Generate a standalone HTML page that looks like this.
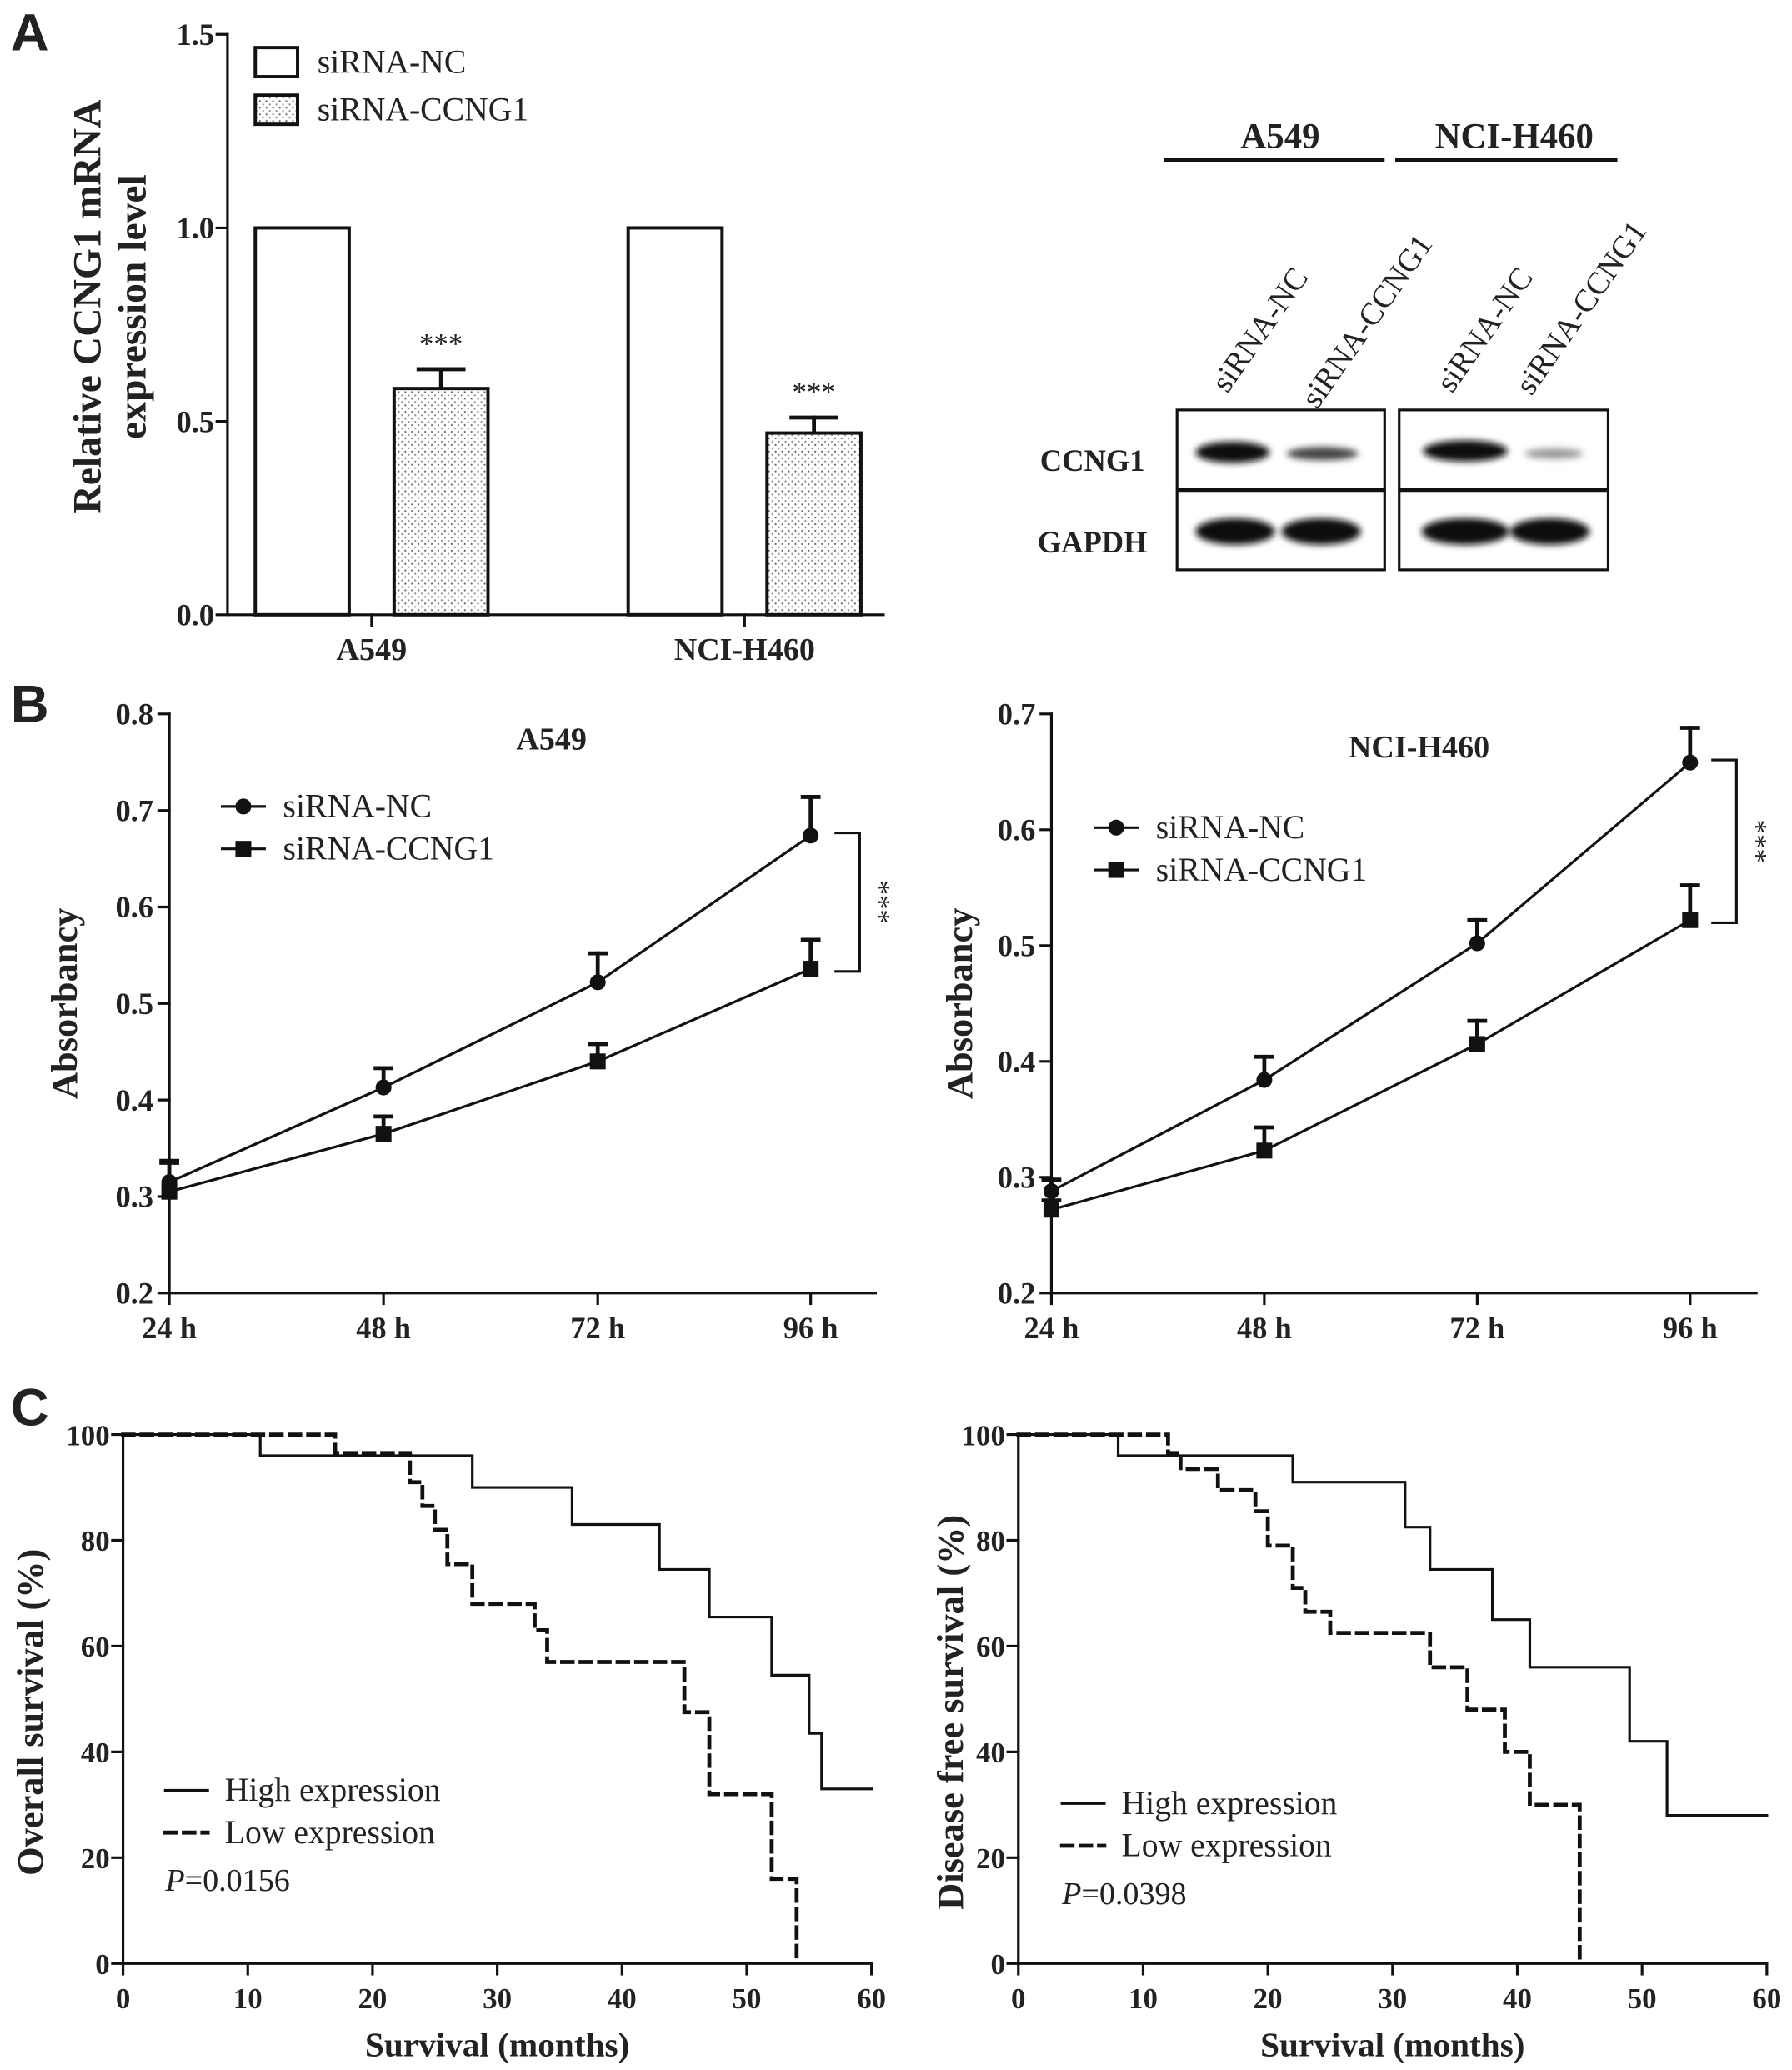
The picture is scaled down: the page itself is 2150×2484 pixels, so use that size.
<!DOCTYPE html>
<html><head><meta charset="utf-8">
<style>
html,body{margin:0;padding:0;background:#fff;}
svg{display:block;}
text{font-family:"Liberation Serif",serif;fill:#222;}
.b{font-weight:bold;}
</style></head>
<body>
<svg id="fig" width="2150" height="2484" viewBox="0 0 1355 1565.5" xmlns="http://www.w3.org/2000/svg">
<defs>
<pattern id="dots" width="5" height="5" patternUnits="userSpaceOnUse"><rect width="5" height="5" fill="#fff"/><circle cx="1.5" cy="1.5" r="0.7" fill="#666"/><circle cx="4" cy="4" r="0.7" fill="#888"/></pattern>
<filter id="blur"><feGaussianBlur stdDeviation="2.5"/></filter>
</defs>
<g id="root" stroke-linecap="square"></g>
<text x="8" y="38" font-size="40" class="b" style="font-family:'Liberation Sans',sans-serif">A</text>
<text x="8" y="546" font-size="40" class="b" style="font-family:'Liberation Sans',sans-serif">B</text>
<text x="8" y="1078" font-size="40" class="b" style="font-family:'Liberation Sans',sans-serif">C</text>

<g>
<line x1="880" y1="121" x2="1047" y2="121" stroke="#111" stroke-width="2.5"/>
<line x1="1055" y1="121" x2="1223" y2="121" stroke="#111" stroke-width="2.5"/>
<text x="968" y="112" font-size="27" class="b" text-anchor="middle">A549</text>
<text x="1145" y="112" font-size="27" class="b" text-anchor="middle">NCI-H460</text>
<text transform="translate(928,298) rotate(-55)" font-size="24">siRNA-NC</text>
<text transform="translate(996,310) rotate(-55)" font-size="24">siRNA-CCNG1</text>
<text transform="translate(1098,298) rotate(-55)" font-size="24">siRNA-NC</text>
<text transform="translate(1158,300) rotate(-55)" font-size="24">siRNA-CCNG1</text>
<text x="826" y="356" font-size="23" class="b" text-anchor="middle">CCNG1</text>
<text x="826" y="418" font-size="23" class="b" text-anchor="middle">GAPDH</text>
<rect x="890" y="310" width="157" height="60" fill="#fff" stroke="#111" stroke-width="2"/>
<rect x="890" y="371" width="157" height="60" fill="#fff" stroke="#111" stroke-width="2"/>
<rect x="1058" y="310" width="158" height="60" fill="#fff" stroke="#111" stroke-width="2"/>
<rect x="1058" y="371" width="158" height="60" fill="#fff" stroke="#111" stroke-width="2"/>
<g filter="url(#blur)">
<ellipse cx="932" cy="342" rx="28" ry="8" fill="#111"/>
<ellipse cx="1000" cy="343" rx="27" ry="5" fill="#444"/>
<ellipse cx="1108" cy="341" rx="32" ry="8" fill="#111"/>
<ellipse cx="1175" cy="343" rx="22" ry="4" fill="#999"/>
<ellipse cx="934" cy="402" rx="30" ry="10" fill="#111"/>
<ellipse cx="999" cy="402" rx="30" ry="10" fill="#111"/>
<ellipse cx="1108" cy="402" rx="33" ry="10" fill="#111"/>
<ellipse cx="1172" cy="402" rx="30" ry="10" fill="#111"/>
</g>
</g>

<script>
const barGroups = ["A549", "NCI-H460"];
const barNC = [1.0, 1.0];
const barSi = [0.585, 0.47];
const barSiErr = [0.05, 0.04];
const barYTicks = ["0.0", "0.5", "1.0", "1.5"];

const timeLabels = ["24  h", "48  h", "72  h", "96  h"];
const a549NC = [0.315, 0.413, 0.522, 0.674];
const a549NCErr = [0.022, 0.02, 0.03, 0.04];
const a549Si = [0.305, 0.365, 0.44, 0.536];
const a549SiErr = [0.03, 0.018, 0.018, 0.03];
const h460NC = [0.288, 0.384, 0.502, 0.658];
const h460NCErr = [0.01, 0.02, 0.02, 0.03];
const h460Si = [0.272, 0.323, 0.415, 0.522];
const h460SiErr = [0.008, 0.02, 0.02, 0.03];
const bLeftTicks = ["0.2","0.3","0.4","0.5","0.6","0.7","0.8"];
const bRightTicks = ["0.2","0.3","0.4","0.5","0.6","0.7"];

const osHigh = [[0,100],[11,96],[28,90],[36,83],[43,74.5],[47,65.5],[52,54.5],[55,43.5],[56,33],[60,33]];
const osLow = [[0,100],[17,96.5],[23,91],[24,86.5],[25,82],[26,75.5],[28,68],[33,63],[34,57],[45,47.5],[46,47.5],[47,32],[52,16],[54,0]];
const dfsHigh = [[0,100],[8,96],[22,91],[31,82.5],[33,74.5],[38,65],[41,56],[49,42],[52,28],[60,28]];
const dfsLow = [[0,100],[12,96.5],[13,93.5],[16,89.5],[19,85.5],[20,79],[22,71],[23,66.5],[25,62.5],[33,56],[36,48],[39,40],[41,30],[45,0]];
const cXTicks = [0,10,20,30,40,50,60];
const cYTicks = [0,20,40,60,80,100];

const NS = "http://www.w3.org/2000/svg";
const root = document.getElementById("root");
function mk(tag, attrs, parent) {
  const e = document.createElementNS(NS, tag);
  for (const k in attrs) e.setAttribute(k, attrs[k]);
  (parent || root).appendChild(e);
  return e;
}
function txt(s, attrs, parent) { const e = mk("text", attrs, parent); e.textContent = s; return e; }

(function(){
  const g = mk("g", {});
  
  
  const x0 = 172, x1 = 668, y0 = 465, yTop = 26;
  const ys = v => y0 - v * (y0 - yTop) / 1.5;
  mk("line", {x1:x0,y1:yTop,x2:x0,y2:y0,stroke:"#111","stroke-width":2}, g);
  mk("line", {x1:x0,y1:y0,x2:x1,y2:y0,stroke:"#111","stroke-width":2}, g);
  barYTicks.forEach(t => {
    const y = ys(parseFloat(t));
    mk("line", {x1:x0-8,y1:y,x2:x0,y2:y,stroke:"#111","stroke-width":2}, g);
    txt(t, {x:x0-10,y:y+8,"font-size":23,"text-anchor":"end",class:"b"}, g);
  });
  const groupX = [193, 475], bw = 71, gap = 34;
  barGroups.forEach((name, i) => {
    const gx = groupX[i];
    const r1 = mk("rect", {x:gx,y:ys(barNC[i]),width:bw,height:y0-ys(barNC[i]),fill:"#fff",stroke:"#111","stroke-width":2.5}, g);
    
    
    const sx = gx + bw + gap;
    const top = ys(barSi[i]), et = ys(barSi[i] + barSiErr[i]);
    mk("line", {x1:sx+bw/2,y1:top,x2:sx+bw/2,y2:et,stroke:"#111","stroke-width":3}, g);
    mk("line", {x1:sx+bw/2-17,y1:et,x2:sx+bw/2+17,y2:et,stroke:"#111","stroke-width":3}, g);
    const r2 = mk("rect", {x:sx,y:top,width:bw,height:y0-top,fill:"url(#dots)",stroke:"#111","stroke-width":2.5}, g);
    
    
    txt("***", {x:sx+bw/2,y:et-12,"font-size":22,"text-anchor":"middle"}, g);
    mk("line", {x1:gx+bw+gap/2,y1:y0,x2:gx+bw+gap/2,y2:y0+8,stroke:"#111","stroke-width":2}, g);
    txt(name, {x:gx+bw+gap/2,y:y0+34,"font-size":24,"text-anchor":"middle",class:"b"}, g);
  });
  const yl = txt("Relative CCNG1 mRNA", {transform:"translate(76,232) rotate(-90)","font-size":30,"text-anchor":"middle",class:"b"}, g);
  
  
  txt("expression level", {transform:"translate(110,232) rotate(-90)","font-size":30,"text-anchor":"middle",class:"b"}, g);
  const lg = mk("g", {}, g);
  
  
  mk("rect", {x:193,y:36,width:32,height:22,fill:"#fff",stroke:"#111","stroke-width":2.5}, lg);
  txt("siRNA-NC", {x:240,y:55,"font-size":25}, lg);
  mk("rect", {x:193,y:72,width:32,height:22,fill:"url(#dots)",stroke:"#111","stroke-width":2.5}, lg);
  txt("siRNA-CCNG1", {x:240,y:91,"font-size":25}, lg);
})();

function lineChart(cfg) {
  const g = mk("g", {});
  
  
  const {x0, xEnd, xs, y0, yTop, vMin, vMax} = cfg;
  const ys = v => y0 - (v - vMin) * (y0 - yTop) / (vMax - vMin);
  mk("line", {x1:x0,y1:yTop,x2:x0,y2:y0,stroke:"#111","stroke-width":2}, g);
  mk("line", {x1:x0,y1:y0,x2:xEnd,y2:y0,stroke:"#111","stroke-width":2}, g);
  cfg.ticks.forEach(t => {
    const y = ys(parseFloat(t));
    mk("line", {x1:x0-8,y1:y,x2:x0,y2:y,stroke:"#111","stroke-width":2}, g);
    txt(t, {x:x0-12,y:y+8,"font-size":23,"text-anchor":"end",class:"b"}, g);
  });
  timeLabels.forEach((t, i) => {
    const x = xs[i];
    mk("line", {x1:x,y1:y0,x2:x,y2:y0+8,stroke:"#111","stroke-width":2}, g);
    txt(t, {x:x,y:y0+34,"font-size":23,"text-anchor":"middle",class:"b","xml:space":"preserve"}, g);
  });
  [[cfg.nc, cfg.ncErr, "circle"], [cfg.si, cfg.siErr, "square"]].forEach(([vals, errs, shape]) => {
    const pts = vals.map((v, i) => xs[i] + "," + ys(v)).join(" ");
    const pl = mk("polyline", {points:pts,fill:"none",stroke:"#111","stroke-width":2}, g);
    
    
    vals.forEach((v, i) => {
      const x = xs[i], y = ys(v), ye = ys(v + errs[i]);
      mk("line", {x1:x,y1:y,x2:x,y2:ye,stroke:"#111","stroke-width":3}, g);
      mk("line", {x1:x-6,y1:ye,x2:x+6,y2:ye,stroke:"#111","stroke-width":3}, g);
      if (shape === "circle") mk("circle", {cx:x,cy:y,r:6,fill:"#111"}, g);
      else mk("rect", {x:x-6,y:y-6,width:12,height:12,fill:"#111"}, g);
    });
  });
  txt(cfg.title, {x:cfg.titleX,y:cfg.titleY,"font-size":24,"text-anchor":"middle",class:"b"}, g);
  txt("Absorbancy", {transform:`translate(${cfg.ylx},${(y0+yTop)/2}) rotate(-90)`,"font-size":28,"text-anchor":"middle",class:"b"}, g);
  const lg = mk("g", {}, g);
  
  
  mk("line", {x1:cfg.lgx,y1:cfg.lgy,x2:cfg.lgx+32,y2:cfg.lgy,stroke:"#111","stroke-width":2}, lg);
  mk("circle", {cx:cfg.lgx+16,cy:cfg.lgy,r:6,fill:"#111"}, lg);
  txt("siRNA-NC", {x:cfg.lgx+46,y:cfg.lgy+8,"font-size":25}, lg);
  mk("line", {x1:cfg.lgx,y1:cfg.lgy+32,x2:cfg.lgx+32,y2:cfg.lgy+32,stroke:"#111","stroke-width":2}, lg);
  mk("rect", {x:cfg.lgx+10,y:cfg.lgy+26,width:12,height:12,fill:"#111"}, lg);
  txt("siRNA-CCNG1", {x:cfg.lgx+46,y:cfg.lgy+40,"font-size":25}, lg);
  const bx = xs[3] + cfg.bOff, ya = ys(cfg.nc[3]) - 2, yb = ys(cfg.si[3]) + 2;
  mk("polyline", {points:`${bx},${ya} ${bx+18},${ya} ${bx+18},${yb} ${bx},${yb}`,fill:"none",stroke:"#111","stroke-width":2}, g);
  txt("***", {transform:`translate(${bx+26},${(ya+yb)/2}) rotate(90)`,"font-size":22,"text-anchor":"middle"}, g);
}
lineChart({name:"line-chart-a549",x0:128,xEnd:662,xs:[128,290,452,613],y0:978,yTop:540,vMin:0.2,vMax:0.8,ticks:bLeftTicks,
  nc:a549NC,ncErr:a549NCErr,si:a549Si,siErr:a549SiErr,title:"A549",titleX:417,titleY:567,ylx:58,lgx:168,lgy:610,bOff:19});
lineChart({name:"line-chart-nci-h460",x0:795,xEnd:1328,xs:[795,956,1117,1278],y0:978,yTop:540,vMin:0.2,vMax:0.7,ticks:bRightTicks,
  nc:h460NC,ncErr:h460NCErr,si:h460Si,siErr:h460SiErr,title:"NCI-H460",titleX:1073,titleY:573,ylx:735,lgx:828,lgy:626,bOff:17});

function km(cfg) {
  const g = mk("g", {});
  
  
  const {x0, x1, y0, yTop} = cfg;
  const xs = m => x0 + m * (x1 - x0) / 60;
  const ys = p => y0 - p * (y0 - yTop) / 100;
  mk("line", {x1:x0,y1:yTop,x2:x0,y2:y0,stroke:"#111","stroke-width":2}, g);
  mk("line", {x1:x0,y1:y0,x2:x1,y2:y0,stroke:"#111","stroke-width":2}, g);
  cYTicks.forEach(t => {
    const y = ys(t);
    mk("line", {x1:x0-8,y1:y,x2:x0,y2:y,stroke:"#111","stroke-width":2}, g);
    txt(String(t), {x:x0-10,y:y+8,"font-size":22,"text-anchor":"end",class:"b"}, g);
  });
  cXTicks.forEach(t => {
    const x = xs(t);
    mk("line", {x1:x,y1:y0,x2:x,y2:y0+8,stroke:"#111","stroke-width":2}, g);
    txt(String(t), {x:x,y:y0+34,"font-size":22,"text-anchor":"middle",class:"b"}, g);
  });
  function step(pts, dashed, nm) {
    let d = "M" + xs(pts[0][0]) + "," + ys(pts[0][1]);
    for (let i = 1; i < pts.length; i++) {
      d += " H" + xs(pts[i][0]) + " V" + ys(pts[i][1]);
    }
    const p = mk("path", {d:d,fill:"none",stroke:"#111","stroke-width":dashed?3:2,"stroke-dasharray":dashed?"8,6":"none"}, g);
    
    
  }
  step(cfg.high, false, 'curve-high-expression');
  step(cfg.low, true, 'curve-low-expression');
  txt("Survival (months)", {x:(x0+x1)/2,y:y0+70,"font-size":26,"text-anchor":"middle",class:"b"}, g);
  txt(cfg.ytitle, {transform:`translate(${cfg.ylx},${(y0+yTop)/2+10}) rotate(-90)`,"font-size":28,"text-anchor":"middle",class:"b"}, g);
  const lg = mk("g", {}, g);
  
  
  mk("line", {x1:cfg.lgx,y1:cfg.lgy,x2:cfg.lgx+32,y2:cfg.lgy,stroke:"#111","stroke-width":2}, lg);
  txt("High expression", {x:cfg.lgx+45,y:cfg.lgy+8,"font-size":25}, lg);
  mk("line", {x1:cfg.lgx,y1:cfg.lgy+32,x2:cfg.lgx+32,y2:cfg.lgy+32,stroke:"#111","stroke-width":3,"stroke-dasharray":"8,6"}, lg);
  txt("Low expression", {x:cfg.lgx+45,y:cfg.lgy+40,"font-size":25}, lg);
  const pt = txt("", {x:cfg.lgx,y:cfg.lgy+76,"font-size":24}, g);
  const pi = document.createElementNS(NS, "tspan"); pi.setAttribute("font-style","italic"); pi.textContent = "P"; pt.appendChild(pi);
  const pv = document.createElementNS(NS, "tspan"); pv.textContent = cfg.p; pt.appendChild(pv);
}
km({name:"km-overall-survival",x0:93,x1:659,y0:1485,yTop:1085,high:osHigh,low:osLow,ytitle:"Overall survival (%)",ylx:32,lgx:125,lgy:1354,p:"=0.0156"});
km({name:"km-disease-free-survival",x0:770,x1:1336,y0:1485,yTop:1085,high:dfsHigh,low:dfsLow,ytitle:"Disease free survival (%)",ylx:728,lgx:803,lgy:1364,p:"=0.0398"});
</script>
</svg>
</body></html>
